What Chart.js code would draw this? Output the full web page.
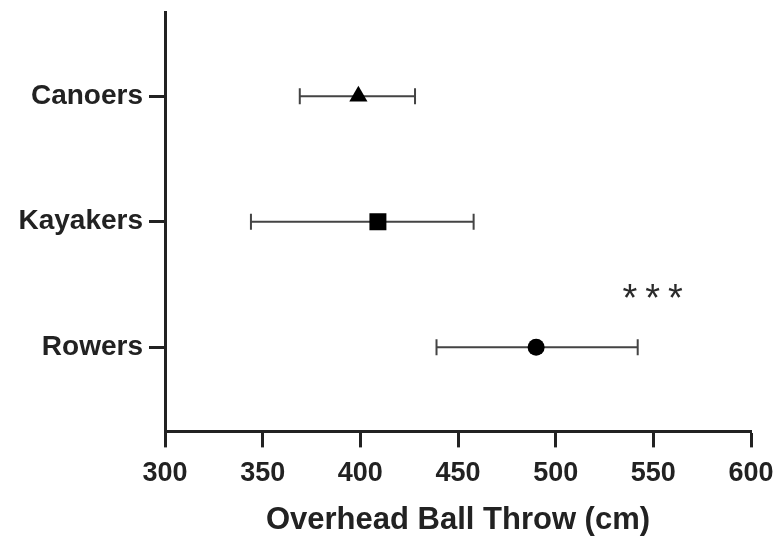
<!DOCTYPE html>
<html>
<head>
<meta charset="utf-8">
<script src="https://cdn.jsdelivr.net/npm/chart.js@4.4.1/dist/chart.umd.min.js"></script>
<style>
  html, body { margin: 0; padding: 0; background: #fff; }
  #wrap { width: 775px; height: 539px; }
</style>
</head>
<body>
<div id="wrap"><canvas id="myChart"></canvas></div>
<script>
// grupos y valores (media y rango de la barra de error)
const grupos = ["Canoers", "Kayakers", "Rowers"];
const medias = [399, 409, 490];
const minimos = [369, 344, 439];
const maximos = [428, 458, 542];
const marcadores = ["triangle", "rect", "circle"];
const significancia = ["", "", "***"];
const ticksX = [300, 350, 400, 450, 500, 550, 600];

const fuente = "'Liberation Sans', Arial, Helvetica, sans-serif";

// Plugin para dibujar las barras de error y los asteriscos
const barrasError = {
  id: "barrasError",
  beforeDatasetsDraw(chart) {
    const ctx = chart.ctx;
    const x = chart.scales.x;
    const y = chart.scales.y;
    ctx.save();
    ctx.strokeStyle = "#444";
    ctx.lineWidth = 2;
    grupos.forEach((g, i) => {
      const py = y.getPixelForValue(i);
      const x1 = x.getPixelForValue(minimos[i]);
      const x2 = x.getPixelForValue(maximos[i]);
      ctx.beginPath();
      ctx.moveTo(x1, py);
      ctx.lineTo(x2, py);
      ctx.moveTo(x1, py - 8);
      ctx.lineTo(x1, py + 8);
      ctx.moveTo(x2, py - 8);
      ctx.lineTo(x2, py + 8);
      ctx.stroke();
    });
    ctx.restore();
  },
  afterDatasetsDraw(chart) {
    const ctx = chart.ctx;
    const x = chart.scales.x;
    const y = chart.scales.y;
    ctx.save();
    ctx.fillStyle = "#2a2a2a";
    ctx.font = "38px " + fuente;
    ctx.textAlign = "center";
    ctx.textBaseline = "middle";
    ctx.letterSpacing = "8px";
    significancia.forEach((s, i) => {
      if (!s) return;
      const px = x.getPixelForValue(maximos[i]) + 19;
      const py = y.getPixelForValue(i) - 47;
      ctx.fillText(s, px, py);
    });
    ctx.restore();
  },
};

const ctx = document.getElementById("myChart");
window.myChart = new Chart(ctx, {
  type: "scatter",
  data: {
    datasets: [
      {
        data: medias.map((m, i) => ({ x: m, y: i })),
        pointStyle: marcadores,
        pointRadius: [10.5, 12, 8.5],
        pointHoverRadius: [10.5, 12, 8.5],
        backgroundColor: "#000",
        borderColor: "#000",
        borderWidth: 0,
      },
    ],
  },
  options: {
    responsive: true,
    maintainAspectRatio: false,
    animation: false,
    layout: { padding: { top: 10, right: 24, left: 0, bottom: 0 } },
    plugins: {
      legend: { display: false },
      tooltip: { enabled: false },
    },
    scales: {
      x: {
        type: "linear",
        min: 300,
        max: 600,
        afterBuildTicks: (scale) => {
          scale.ticks = ticksX.map((v) => ({ value: v }));
        },
        afterFit: (scale) => {
          scale.paddingRight = 0;
          scale.paddingLeft = 0;
        },
        grid: {
          drawOnChartArea: false,
          drawTicks: true,
          tickLength: 16,
          tickWidth: 3,
          tickColor: "#222",
        },
        border: { display: true, width: 3, color: "#222" },
        ticks: {
          color: "#222",
          padding: 10,
          maxRotation: 0,
          font: { family: fuente, size: 27, weight: "bold" },
        },
        title: {
          display: true,
          text: "Overhead Ball Throw (cm)",
          color: "#222",
          padding: { top: 2, bottom: 0 },
          font: { family: fuente, size: 31, weight: "bold" },
        },
      },
      y: {
        type: "linear",
        reverse: true,
        min: -0.67,
        max: 2.67,
        afterBuildTicks: (scale) => {
          scale.ticks = grupos.map((g, i) => ({ value: i }));
        },
        afterFit: (scale) => {
          scale.width = 165;
          scale.paddingTop = 0;
          scale.paddingBottom = 0;
        },
        grid: {
          drawOnChartArea: false,
          drawTicks: true,
          tickLength: 16,
          tickWidth: 3,
          tickColor: "#222",
        },
        border: { display: true, width: 3, color: "#222" },
        ticks: {
          color: "#222",
          padding: 6,
          callback: (v) => grupos[v],
          font: { family: fuente, size: 28, weight: "bold" },
        },
      },
    },
  },
  plugins: [barrasError],
});
</script>
</body>
</html>
